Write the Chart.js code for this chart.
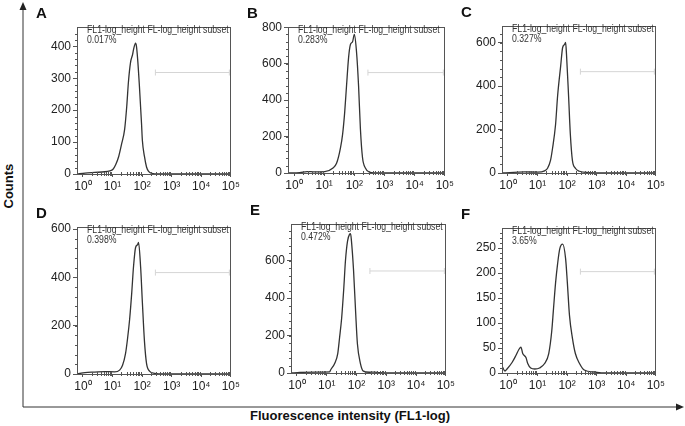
<!DOCTYPE html>
<html>
<head>
<meta charset="utf-8">
<script src="https://cdn.jsdelivr.net/npm/chart.js@4/dist/chart.umd.min.js"></script>
<style>
  body { margin: 0; background: #fff; }
  #fig { position: relative; width: 685px; height: 426px; overflow: hidden; font-family: "Liberation Sans", Arial, sans-serif; }
  #fig canvas { position: absolute; }
  .letter { position: absolute; font-weight: bold; font-size: 15px; color: #111; }
  .note { position: absolute; font-size: 10px; line-height: 10px; color: #333; white-space: nowrap; transform: scaleX(0.87); transform-origin: left top; }
  .axlab { position: absolute; font-weight: bold; font-size: 13px; color: #111; white-space: nowrap; }
</style>
</head>
<body>
<div id="fig">
  <svg width="685" height="426" style="position:absolute;left:0;top:0">
    <line x1="23" y1="407" x2="23" y2="9" stroke="#333" stroke-width="1"/>
    <polygon points="23,2 19.5,10 26.5,10" fill="#222"/>
    <line x1="23" y1="407" x2="677" y2="407" stroke="#333" stroke-width="1"/>
    <polygon points="684,407 676,403.5 676,410.5" fill="#222"/>
  </svg>
  <div class="axlab" style="left:-14px;top:179px;transform:rotate(-90deg);transform-origin:center;width:44px;text-align:center">Counts</div>
  <div class="axlab" style="left:200px;top:408px;width:300px;text-align:center">Fluorescence intensity (FL1-log)</div>
</div>
<script>
// x in log10 units (decades)
const xTicks = [0, 1, 2, 3, 4, 5];
const xTickLabels = ['10\u2070', '10\u00b9', '10\u00b2', '10\u00b3', '10\u2074', '10\u2075'];

const panelLetters = ['A', 'B', 'C', 'D', 'E', 'F'];
const subsetPct = ['0.017%', '0.283%', '0.327%', '0.398%', '0.472%', '3.65%'];
const yMax = [460, 800, 675, 608, 795, 290];
const yTicksA = [0, 100, 200, 300, 400];
const yTicksB = [0, 200, 400, 600, 800];
const yTicksC = [0, 200, 400, 600];
const yTicksD = [0, 200, 400, 600];
const yTicksE = [0, 200, 400, 600];
const yTicksF = [0, 50, 100, 150, 200, 250];
const yTicks = [yTicksA, yTicksB, yTicksC, yTicksD, yTicksE, yTicksF];
const gateY = [318, 551, 466, 420, 545, 203];
const gateX = [2.45, 4.95];

const aX = [-0.2, 0.07, 0.40, 0.74, 0.91, 1.01, 1.11, 1.21, 1.31, 1.41, 1.48, 1.54, 1.61, 1.68, 1.71, 1.78, 1.81, 1.85, 1.91, 1.98, 2.01, 2.08, 2.15, 2.22, 2.32, 2.58, 5.0];
const aY = [0, 3, 5, 7, 10, 14, 30, 55, 95, 140, 210, 290, 350, 375, 390, 410, 400, 360, 275, 160, 105, 55, 22, 8, 2, 0, 0];

const bX = [-0.2, 0.19, 0.43, 0.69, 1.02, 1.28, 1.41, 1.54, 1.61, 1.68, 1.74, 1.81, 1.87, 1.94, 2.0, 2.07, 2.14, 2.20, 2.27, 2.37, 2.50, 2.66, 5.0];
const bY = [0, 2, 8, 6, 7, 26, 53, 138, 212, 334, 477, 636, 705, 720, 760, 668, 477, 244, 85, 26, 5, 0, 0];

const cX = [-0.2, 0.57, 1.0, 1.24, 1.34, 1.44, 1.51, 1.61, 1.68, 1.78, 1.85, 1.91, 1.95, 1.98, 2.05, 2.11, 2.18, 2.28, 2.42, 2.75, 3.09, 5.0];
const cY = [0, 5, 4, 10, 22, 58, 115, 222, 355, 488, 577, 590, 600, 546, 355, 178, 58, 22, 8, 2, 0, 0];

const dX = [-0.2, 0.07, 0.40, 0.74, 1.07, 1.24, 1.34, 1.44, 1.51, 1.58, 1.65, 1.71, 1.78, 1.85, 1.88, 1.95, 2.01, 2.08, 2.15, 2.25, 2.42, 2.75, 5.0];
const dY = [0, 6, 8, 10, 9, 16, 36, 84, 148, 228, 336, 444, 524, 536, 545, 444, 296, 136, 44, 12, 3, 0, 0];

const eX = [-0.2, 0.1, 0.67, 1.1, 1.13, 1.27, 1.37, 1.43, 1.5, 1.57, 1.63, 1.7, 1.77, 1.8, 1.83, 1.9, 1.97, 2.03, 2.13, 2.23, 2.43, 2.6, 2.77, 3.1, 5.0];
const eY = [0, 3, 5, 6, 16, 52, 104, 187, 291, 446, 602, 706, 742, 745, 706, 550, 327, 156, 52, 10, 4, 5, 2, 0, 0];

const fX = [-0.2, -0.1, -0.03, 0.14, 0.27, 0.37, 0.44, 0.50, 0.61, 0.67, 0.77, 0.91, 1.07, 1.24, 1.38, 1.48, 1.54, 1.61, 1.68, 1.75, 1.85, 1.95, 2.01, 2.08, 2.18, 2.28, 2.42, 2.58, 2.92, 3.26, 5.0];
const fY = [14, 4, 8, 21, 35, 47, 52, 39, 31, 19, 10, 8, 10, 19, 39, 83, 128, 180, 219, 248, 258, 229, 180, 116, 70, 39, 19, 6, 2, 0, 0];

const curvesX = [aX, bX, cX, dX, eX, fX];
const curvesY = [aY, bY, cY, dY, eY, fY];

// plot box of each panel on the page
const areas = [
  {l: 77, t: 22, r: 232, b: 174},
  {l: 288, t: 22, r: 446, b: 173},
  {l: 502, t: 21, r: 657, b: 173},
  {l: 77, t: 222, r: 232, b: 374},
  {l: 291, t: 219, r: 447, b: 373},
  {l: 502, t: 223, r: 657, b: 373}
];

const fig = document.getElementById('fig');
const tickFont = {family: '"Liberation Sans", Arial, sans-serif', size: 12};

// box round the plot + minor ticks
const boxPlugin = {
  id: 'box',
  afterDraw(chart) {
    const ctx = chart.ctx, a = chart.chartArea;
    const xs = chart.scales.x, ys = chart.scales.y;
    ctx.save();
    ctx.strokeStyle = '#555';
    ctx.lineWidth = 1;
    ctx.strokeRect(Math.round(a.left) + 0.5, Math.round(a.top) + 0.5, Math.round(a.right - a.left) - 1, Math.round(a.bottom - a.top));
    ctx.beginPath();
    for (let k = 0; k < 5; k++) {
      for (let m = 2; m <= 9; m++) {
        const px = Math.round(xs.getPixelForValue(k + Math.log10(m))) + 0.5;
        ctx.moveTo(px, a.bottom - 2);
        ctx.lineTo(px, a.bottom + 2);
      }
    }
    const tv = ys.ticks.map(t => t.value);
    const step = (tv[1] - tv[0]) / 5;
    for (let v = step; v < ys.max; v += step) {
      const py = Math.round(ys.getPixelForValue(v)) + 0.5;
      ctx.moveTo(a.left - 2, py);
      ctx.lineTo(a.left, py);
    }
    ctx.stroke();
    ctx.restore();
  }
};

panelLetters.forEach((letter, i) => {
  const ar = areas[i];
  const padTop = 4, padRight = 10, yW = 40, xH = 22;
  const cv = document.createElement('canvas');
  cv.width = (ar.r - ar.l) + yW + padRight;
  cv.height = (ar.b - ar.t) + padTop + xH;
  cv.style.left = (ar.l - yW) + 'px';
  cv.style.top = (ar.t - padTop) + 'px';
  fig.appendChild(cv);

  const pts = curvesX[i].map((x, j) => ({x: x, y: curvesY[i][j]}));
  const gate = gateX.map(x => ({x: x, y: gateY[i]}));

  new Chart(cv, {
    type: 'line',
    data: {
      datasets: [{
        data: pts,
        borderColor: '#333',
        borderWidth: 1.3,
        pointRadius: 0,
        cubicInterpolationMode: 'monotone',
        fill: false
      }, {
        data: gate,
        borderColor: '#d5d5d5',
        borderWidth: 1,
        pointStyle: 'line',
        rotation: 90,
        pointRadius: 3,
        pointBorderColor: '#d5d5d5',
        pointBorderWidth: 1
      }]
    },
    options: {
      responsive: false,
      animation: false,
      events: [],
      layout: {padding: {top: padTop, right: padRight, left: 0, bottom: 0}},
      plugins: {legend: {display: false}, tooltip: {enabled: false}},
      scales: {
        x: {
          type: 'linear',
          min: -0.2,
          max: 5,
          afterBuildTicks: s => { s.ticks = xTicks.map(v => ({value: v})); },
          afterFit: s => { s.height = xH; },
          ticks: {
            callback: v => xTickLabels[xTicks.indexOf(v)],
            font: tickFont, color: '#222', maxRotation: 0, autoSkip: false, padding: 2
          },
          grid: {drawOnChartArea: false, tickLength: 3, color: '#555'},
          border: {color: '#555'}
        },
        y: {
          min: 0,
          max: yMax[i],
          afterBuildTicks: s => { s.ticks = yTicks[i].map(v => ({value: v})); },
          afterFit: s => { s.width = yW; },
          ticks: {font: tickFont, color: '#222', padding: 2, autoSkip: false},
          grid: {drawOnChartArea: false, tickLength: 4, color: '#555'},
          border: {color: '#555'}
        }
      }
    },
    plugins: [boxPlugin]
  });

  const lt = document.createElement('div');
  lt.className = 'letter';
  lt.textContent = letter;
  lt.style.left = (ar.l - 41) + 'px';
  lt.style.top = (ar.t - 18) + 'px';
  fig.appendChild(lt);

  const nt = document.createElement('div');
  nt.className = 'note';
  nt.innerHTML = 'FL1-log_height FL-log_height subset<br>' + subsetPct[i];
  nt.style.left = (ar.l + 10) + 'px';
  nt.style.top = (ar.t + 3) + 'px';
  fig.appendChild(nt);
});
</script>
</body>
</html>
